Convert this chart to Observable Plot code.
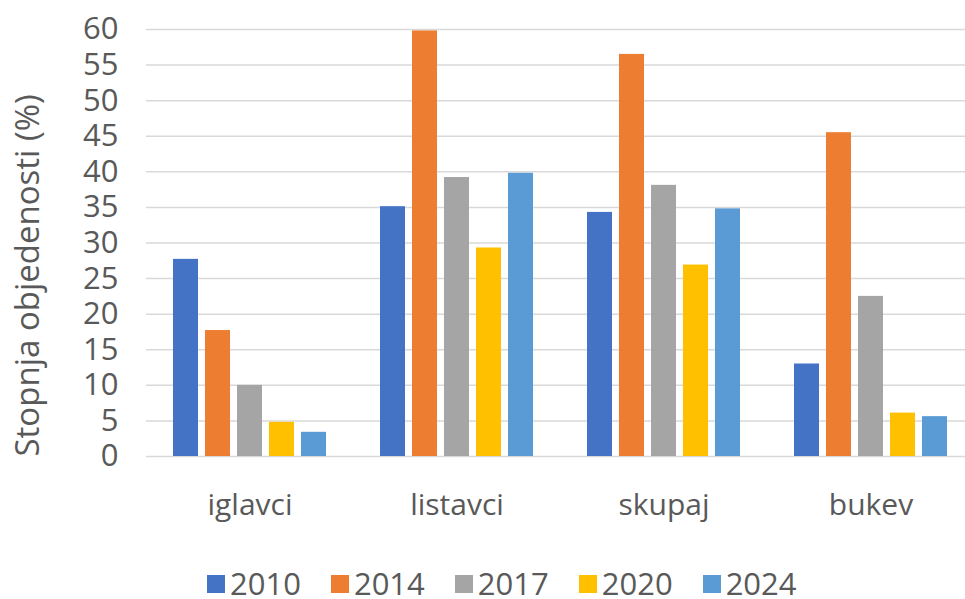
<!DOCTYPE html>
<html>
<head>
<meta charset="utf-8">
<script src="https://cdn.jsdelivr.net/npm/d3@7"></script>
<script src="https://cdn.jsdelivr.net/npm/@observablehq/plot@0.6"></script>
<style>
  body { margin: 0; background: #fff; font-family: "Open Sans", sans-serif; }
  #chart svg { display: block; }
  #legend { display: flex; align-items: center; margin-top: 38px; margin-left: 207px; }
  .item { display: flex; align-items: center; margin-right: 30px; }
  .sw { width: 18px; height: 18px; margin-right: 5px; }
  .lab { font-size: 31px; color: #595959; line-height: 1; }
</style>
</head>
<body>
<div id="chart"></div>
<div id="legend"></div>
<script>
const categories = ["iglavci", "listavci", "skupaj", "bukev"];
const years = ["2010", "2014", "2017", "2020", "2024"];
const values2010 = [27.7, 35.1, 34.3, 13.0];
const values2014 = [17.7, 59.8, 56.5, 45.5];
const values2017 = [10.0, 39.2, 38.1, 22.5];
const values2020 = [4.8, 29.3, 26.9, 6.1];
const values2024 = [3.4, 39.8, 34.8, 5.6];
const yTicks = [0, 5, 10, 15, 20, 25, 30, 35, 40, 45, 50, 55, 60];
const yTitle = "Stopnja objedenosti (%)";
const colors = ["#4472C4", "#ED7D31", "#A5A5A5", "#FFC000", "#5B9BD5"];

const series = [values2010, values2014, values2017, values2020, values2024];
const table = [];
categories.forEach((c, i) => {
  years.forEach((y, j) => table.push({category: c, year: y, value: series[j][i]}));
});

const chart = Plot.plot({
  width: 965,
  height: 530,
  marginTop: 29,
  marginBottom: 74,
  marginLeft: 145,
  marginRight: -10,
  style: {fontFamily: '"Open Sans", sans-serif', color: "#595959", background: "#fff"},
  fx: {domain: categories, padding: 0, label: null},
  x: {domain: years, paddingInner: 0.23, paddingOuter: 0.815, axis: null},
  y: {domain: [0, 60], axis: null},
  color: {domain: years, range: colors},
  marks: [
    Plot.gridY(yTicks, {stroke: "#d9d9d9", strokeOpacity: 1, strokeWidth: 1.5}),
    Plot.barY(table, {fx: "category", x: "year", y: "value", fill: "year"}),
    Plot.axisY(yTicks, {anchor: "left", tickSize: 0, tickPadding: 28, fontSize: 31, fill: "#595959", label: null}),
    Plot.axisFx({anchor: "bottom", tickSize: 0, tickPadding: 37, fontSize: 30, fill: "#595959", label: null}),
    Plot.text([{category: categories[0], t: yTitle}], {fx: "category", text: "t", frameAnchor: "bottom-left", rotate: -90, textAnchor: "start", dx: -108, fontSize: 33, fill: "#595959"})
  ]
});
document.getElementById("chart").appendChild(chart);

const legend = document.getElementById("legend");
years.forEach((y, j) => {
  const item = document.createElement("div");
  item.className = "item";
  const sw = document.createElement("div");
  sw.className = "sw";
  sw.style.background = colors[j];
  const lab = document.createElement("span");
  lab.className = "lab";
  lab.textContent = y;
  item.appendChild(sw);
  item.appendChild(lab);
  legend.appendChild(item);
});
</script>
</body>
</html>
